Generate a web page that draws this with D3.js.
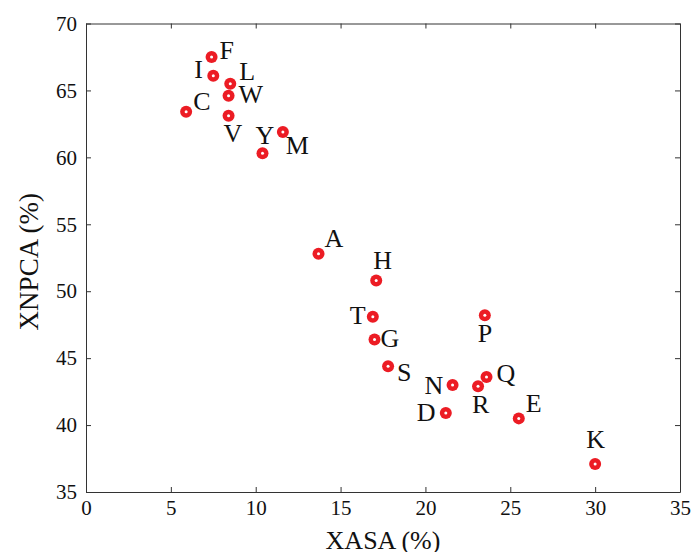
<!DOCTYPE html>
<html>
<head>
<meta charset="utf-8">
<script src="https://cdn.jsdelivr.net/npm/d3@7"></script>
<style>
  body { margin: 0; background: #fff; }
  text { font-family: "Liberation Serif", "Times New Roman", serif; fill: #111; }
</style>
</head>
<body>
<script>
// residue letters and their two percentages
const names = ['F', 'I', 'L', 'W', 'C', 'V', 'Y', 'M', 'A', 'H', 'T', 'G', 'S', 'N', 'D', 'R', 'Q', 'P', 'E', 'K']
const xasa = [7.4, 7.5, 8.5, 8.4, 5.9, 8.4, 10.4, 11.6, 13.7, 17.1, 16.9, 17.0, 17.8, 21.6, 21.2, 23.1, 23.6, 23.5, 25.5, 30.0]
const xnpca = [67.5, 66.1, 65.5, 64.6, 63.4, 63.1, 60.3, 61.9, 52.8, 50.8, 48.1, 46.4, 44.4, 43.0, 40.9, 42.9, 43.6, 48.2, 40.5, 37.1]
const xTicks = [0, 5, 10, 15, 20, 25, 30, 35]
const yTicks = [35, 40, 45, 50, 55, 60, 65, 70]

// where each letter sits relative to its point
const place = {
  F: [8, 2], I: [-19, 2], L: [9, -4], W: [10, 7], C: [7, -2],
  V: [-5, 26], Y: [-7, -9], M: [3, 22], A: [6, -7], H: [-3, -12],
  T: [-23, 7], G: [6, 8], S: [9, 15], N: [-28, 9], D: [-29, 8],
  R: [-6, 27], Q: [10, 5], P: [-7, 27], E: [7, -6], K: [-9, -16]
}

const W = 693, H = 552
const margin = {top: 23.5, right: 13, bottom: 60, left: 86}
const width = W - margin.left - margin.right
const height = H - margin.top - margin.bottom

const svg = d3.select('body').append('svg')
  .attr('width', W)
  .attr('height', H)

const g = svg.append('g')
  .attr('transform', 'translate(' + margin.left + ',' + margin.top + ')')

const x = d3.scaleLinear().domain([0, 35]).range([0, width])
const y = d3.scaleLinear().domain([35, 70]).range([height, 0])

// box with inward ticks on all four sides
const tickLen = 5
const axisStyle = function(sel) {
  sel.select('.domain').attr('stroke', '#333')
  sel.selectAll('.tick line').attr('stroke', '#333')
  sel.selectAll('.tick text').style('font-size', '21px').attr('fill', '#111')
}

g.append('g')
  .attr('transform', 'translate(0,' + height + ')')
  .call(d3.axisBottom(x).tickValues(xTicks).tickSizeInner(-tickLen).tickSizeOuter(0).tickPadding(8))
  .call(axisStyle)

g.append('g')
  .call(d3.axisTop(x).tickValues(xTicks).tickSizeInner(-tickLen).tickSizeOuter(0).tickFormat(''))
  .call(axisStyle)

g.append('g')
  .call(d3.axisLeft(y).tickValues(yTicks).tickSizeInner(-tickLen).tickSizeOuter(0).tickPadding(9))
  .call(axisStyle)

g.append('g')
  .attr('transform', 'translate(' + width + ',0)')
  .call(d3.axisRight(y).tickValues(yTicks).tickSizeInner(-tickLen).tickSizeOuter(0).tickFormat(''))
  .call(axisStyle)

// points
const pts = g.append('g').selectAll('g')
  .data(names)
  .join('g')
  .attr('transform', function(d, i) { return 'translate(' + x(xasa[i]) + ',' + y(xnpca[i]) + ')' })

pts.append('circle').attr('r', 6).attr('fill', '#ec1c24')
pts.append('circle').attr('r', 1.5).attr('fill', '#fff')

pts.append('text')
  .attr('x', function(d) { return place[d][0] })
  .attr('y', function(d) { return place[d][1] })
  .style('font-size', '26px')
  .text(function(d) { return d })

// axis titles
svg.append('text')
  .attr('x', margin.left + width / 2)
  .attr('y', 549)
  .attr('text-anchor', 'middle')
  .style('font-size', '26px')
  .text('XASA (%)')

svg.append('text')
  .attr('transform', 'translate(38,' + (margin.top + height / 2 + 4) + ') rotate(-90)')
  .attr('text-anchor', 'middle')
  .style('font-size', '27px')
  .text('XNPCA (%)')
</script>
</body>
</html>
